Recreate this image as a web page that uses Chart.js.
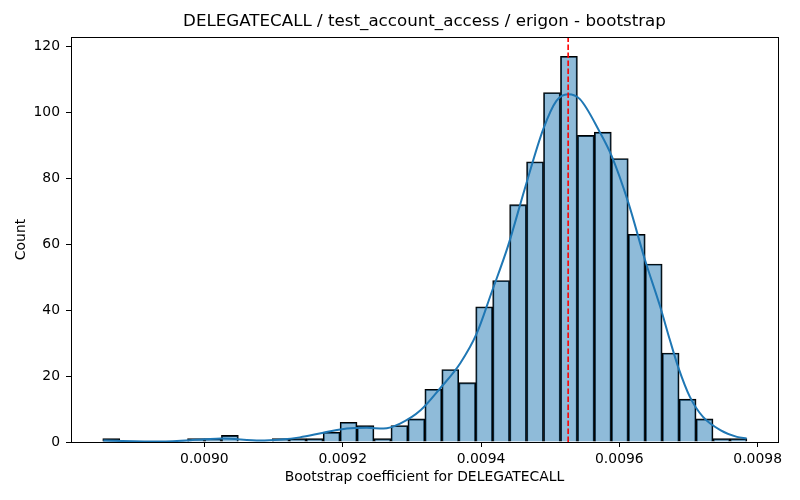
<!DOCTYPE html>
<html>
<head>
<meta charset="utf-8">
<script src="https://cdn.jsdelivr.net/npm/chart.js@4/dist/chart.umd.min.js"></script>
<style>
  body { margin: 0; background: #fff; }
  #wrap { width: 800px; height: 500px; }
</style>
</head>
<body>
<div id="wrap"><canvas id="histChart" width="800" height="500"></canvas></div>
<script>
// histogram bins (38 bins)
const binStart = 0.0088531;
const binWidth = 0.00002451;
const binCounts = [1, 0, 0, 0, 0, 1, 1, 2, 0, 0, 1, 1, 1, 3, 6, 5, 1, 5, 7, 16,
  22, 18, 41, 49, 72, 85, 106, 117, 93, 94, 86, 63, 54, 27, 13, 7, 1, 1];

// kde curve, points
const kdeX = [0.008854, 0.008936, 0.009000, 0.009024, 0.009081, 0.009110, 0.009138,
  0.009172, 0.009206, 0.009235, 0.009259, 0.009283, 0.009313, 0.009341, 0.009370,
  0.009394, 0.009415, 0.009439, 0.009463, 0.009490, 0.009509, 0.009526, 0.009543,
  0.009572, 0.009589, 0.009613, 0.009637, 0.009659, 0.009673, 0.009685, 0.009702,
  0.009721, 0.009746, 0.009770, 0.009784];
const kdeY = [0.45, 0.15, 0.8, 1.07, 0.45, 0.75, 1.4,
  2.8, 4.1, 4.3, 4.1, 5.6, 9.7, 16.3, 23.9,
  33.0, 45.2, 59.4, 76.6, 94.9, 103.5, 105.5, 104.0,
  93.9, 86.7, 72.6, 55.3, 41.1, 31.0, 22.8, 13.7,
  7.6, 3.6, 1.55, 1.06];

// moyenne (ligne rouge)
const meanValue = 0.009526;

const xTicks = [0.0090, 0.0092, 0.0094, 0.0096, 0.0098];
const yTicks = [0, 20, 40, 60, 80, 100, 120];
const xMin = 0.0088072, xMax = 0.0098294;
const yMax = 122.85;

const titleText = "DELEGATECALL / test_account_access / erigon - bootstrap";
const xLabel = "Bootstrap coefficient for DELEGATECALL";
const yLabel = "Count";

// données pour les barres
let barData = [];
binCounts.forEach((c, i) => {
  barData.push({ x: binStart + binWidth * (i + 0.5), y: c });
});

let kdeData = kdeX.map((x, i) => ({ x: x, y: kdeY[i] }));

// cadre complet + titre centré sur la zone du graphique (comme matplotlib)
const framePlugin = {
  id: "frame",
  afterDatasetsDraw(chart) {
    const a = chart.chartArea;
    const ctx = chart.ctx;
    ctx.save();
    ctx.strokeStyle = "#000";
    ctx.lineWidth = 1;
    ctx.strokeRect(Math.round(a.left) + 0.5, Math.round(a.top) + 0.5,
      Math.round(a.right - a.left), Math.round(a.bottom - a.top));
    ctx.fillStyle = "#000";
    ctx.font = "16.7px 'DejaVu Sans', sans-serif";
    ctx.textAlign = "center";
    ctx.textBaseline = "middle";
    ctx.fillText(titleText, (a.left + a.right) / 2, 22);
    ctx.restore();
  }
};

Chart.defaults.font.family = "'DejaVu Sans', sans-serif";
Chart.defaults.color = "#000";

const ctx = document.getElementById("histChart").getContext("2d");
const myChart = new Chart(ctx, {
  type: "bar",
  data: {
    datasets: [
      {
        type: "line",
        data: [{ x: meanValue, y: 0 }, { x: meanValue, y: yMax }],
        borderColor: "#ff0000",
        borderWidth: 1.6,
        borderDash: [5.5, 2.5],
        pointRadius: 0,
        order: 1,
      },
      {
        type: "line",
        data: kdeData,
        borderColor: "#1f77b4",
        borderWidth: 2,
        pointRadius: 0,
        cubicInterpolationMode: "monotone",
        order: 2,
      },
      {
        type: "bar",
        data: barData,
        backgroundColor: "rgba(31, 119, 180, 0.5)",
        borderColor: "#000",
        borderWidth: 1.2,
        barPercentage: 1,
        categoryPercentage: 1,
        grouped: false,
        order: 3,
      },
    ],
  },
  options: {
    responsive: false,
    animation: false,
    devicePixelRatio: 1,
    layout: { padding: { left: 0, right: 22, top: 37, bottom: 0 } },
    plugins: {
      legend: { display: false },
      tooltip: { enabled: false },
      title: { display: false },
    },
    scales: {
      x: {
        type: "linear",
        min: xMin,
        max: xMax,
        offset: false,
        afterBuildTicks: (scale) => {
          scale.ticks = xTicks.map((v) => ({ value: v }));
        },
        afterFit: (scale) => {
          scale.height = 58;
        },
        ticks: {
          font: { size: 13.9 },
          padding: 4,
          maxRotation: 0,
          autoSkip: false,
          callback: (v) => v.toFixed(4),
        },
        grid: {
          display: true,
          offset: false,
          drawOnChartArea: false,
          tickLength: 5,
          tickColor: "#000",
          tickWidth: 1,
        },
        border: { display: false },
        title: {
          display: true,
          text: xLabel,
          font: { size: 13.9 },
          padding: { top: 0, bottom: 14 },
        },
      },
      y: {
        min: 0,
        max: yMax,
        afterBuildTicks: (scale) => {
          scale.ticks = yTicks.map((v) => ({ value: v }));
        },
        afterFit: (scale) => {
          scale.width = 71;
        },
        ticks: {
          font: { size: 13.9 },
          padding: 6,
          autoSkip: false,
        },
        grid: {
          display: true,
          drawOnChartArea: false,
          tickLength: 5,
          tickColor: "#000",
          tickWidth: 1,
        },
        border: { display: false },
        title: {
          display: true,
          text: yLabel,
          font: { size: 13.9 },
          padding: { top: 13, bottom: 0 },
        },
      },
    },
  },
  plugins: [framePlugin],
});
</script>
</body>
</html>
